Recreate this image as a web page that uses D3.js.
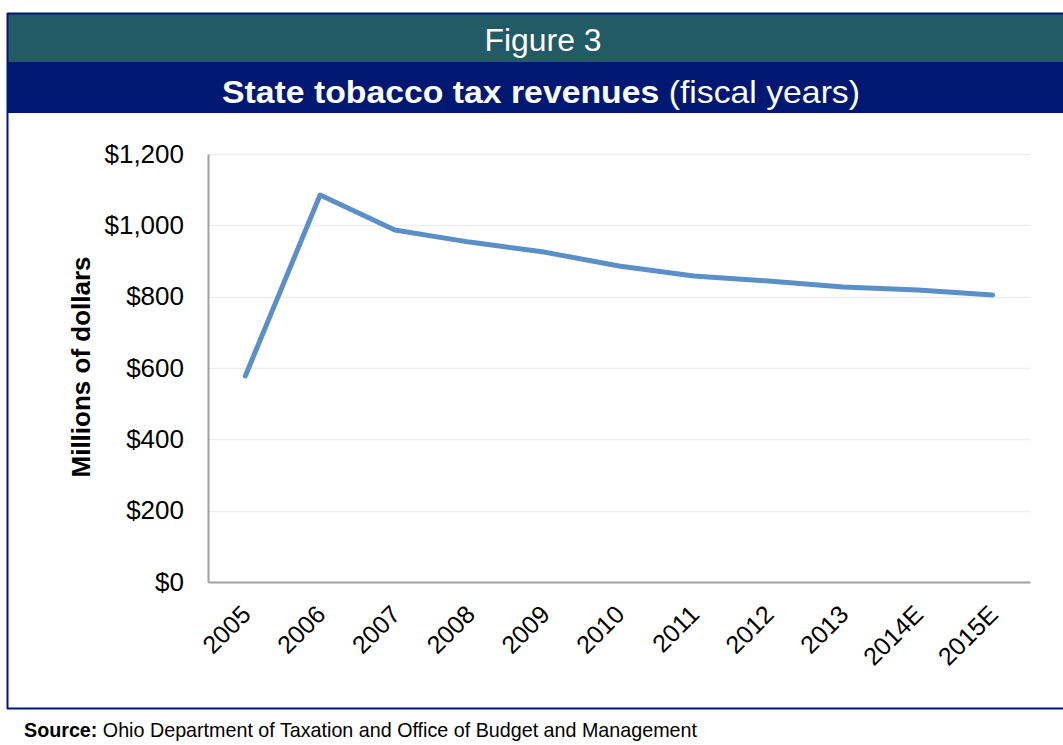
<!doctype html>
<html>
<head>
<meta charset="utf-8">
<script src="https://d3js.org/d3.v7.min.js"></script>
<style>
  body { margin: 0; background: #fff; }
  svg { display: block; font-family: "Liberation Sans", Arial, sans-serif; }
</style>
</head>
<body>
<script>
// data
var years = ["2005","2006","2007","2008","2009","2010","2011","2012","2013","2014E","2015E"];
var revenue = [578, 1085, 987, 953, 925, 886, 858, 844, 827, 819, 805];
var yTicks = [0, 200, 400, 600, 800, 1000, 1200];

var W = 1063, H = 745;
var margin = { top: 154, left: 208, right: 33, bottom: 163 };

var svg = d3.select("body").append("svg").attr("width", W).attr("height", H);

// header bands
svg.append("rect").attr("x", 7).attr("y", 13).attr("width", W).attr("height", 49).attr("fill", "#225A66");
svg.append("rect").attr("x", 7).attr("y", 62).attr("width", W).attr("height", 51).attr("fill", "#001872");
// frame
svg.append("line").attr("x1", 7).attr("x2", W).attr("y1", 13.5).attr("y2", 13.5).attr("stroke", "#001872").attr("stroke-width", 2);
svg.append("line").attr("x1", 7.5).attr("x2", 7.5).attr("y1", 13).attr("y2", 709).attr("stroke", "#001872").attr("stroke-width", 2);
svg.append("line").attr("x1", 7).attr("x2", W).attr("y1", 708.5).attr("y2", 708.5).attr("stroke", "#001872").attr("stroke-width", 2);

svg.append("text").attr("x", 543).attr("y", 51).attr("text-anchor", "middle")
  .attr("fill", "#fff").style("font-size", "31px").attr("textLength", 117).attr("lengthAdjust", "spacingAndGlyphs")
  .text("Figure 3");

var t = svg.append("text").attr("x", 541).attr("y", 103).attr("text-anchor", "middle")
  .attr("fill", "#fff").style("font-size", "32px")
  .attr("textLength", 638).attr("lengthAdjust", "spacingAndGlyphs");
t.append("tspan").style("font-weight", "bold").text("State tobacco tax revenues");
t.append("tspan").text(" (fiscal years)");

// scales
var x = d3.scaleBand().domain(years).range([margin.left, W - margin.right]);
var y = d3.scaleLinear().domain([0, 1200]).range([H - margin.bottom, margin.top]);

// gridlines
svg.append("g").selectAll("line").data(yTicks.slice(1)).enter().append("line")
  .attr("x1", margin.left).attr("x2", W - margin.right)
  .attr("y1", function(d) { return Math.round(y(d)) + 0.5; })
  .attr("y2", function(d) { return Math.round(y(d)) + 0.5; })
  .attr("stroke", "#EEEEEE").attr("stroke-width", 1.5);

// y axis
var yAxis = svg.append("g").attr("transform", "translate(" + margin.left + ",0)")
  .call(d3.axisLeft(y).tickValues(yTicks).tickSize(0).tickPadding(24)
    .tickFormat(function(d) { return "$" + d3.format(",")(d); }));
yAxis.select(".domain").attr("stroke", "#A0A0A0").attr("stroke-width", 2);
yAxis.selectAll("text").style("font-size", "26px").attr("fill", "#000")
  .style("font-family", "'Liberation Sans', Arial, sans-serif");

// x axis
var xAxis = svg.append("g").attr("transform", "translate(0," + (H - margin.bottom) + ")")
  .call(d3.axisBottom(x).tickSize(0).tickPadding(0));
xAxis.select(".domain").attr("stroke", "#A0A0A0").attr("stroke-width", 2);
xAxis.selectAll("text").style("font-size", "25px").attr("fill", "#000")
  .style("font-family", "'Liberation Sans', Arial, sans-serif")
  .attr("text-anchor", "end").attr("dy", 0).attr("y", 0)
  .attr("transform", "translate(7,34) rotate(-45)");

// y title
svg.append("text").attr("transform", "translate(90,367) rotate(-90)")
  .attr("text-anchor", "middle").style("font-size", "26px").style("font-weight", "bold")
  .text("Millions of dollars");

// line
var line = d3.line()
  .x(function(d, i) { return x(years[i]) + x.bandwidth() / 2; })
  .y(function(d) { return y(d); });
svg.append("path").datum(revenue).attr("d", line)
  .attr("fill", "none").attr("stroke", "#5B8FC8").attr("stroke-width", 5)
  .attr("stroke-linecap", "round").attr("stroke-linejoin", "round");

// source
var s = svg.append("text").attr("x", 24).attr("y", 737).style("font-size", "21px")
  .attr("textLength", 673).attr("lengthAdjust", "spacingAndGlyphs");
s.append("tspan").style("font-weight", "bold").text("Source:");
s.append("tspan").text(" Ohio Department of Taxation and Office of Budget and Management");
</script>
</body>
</html>
